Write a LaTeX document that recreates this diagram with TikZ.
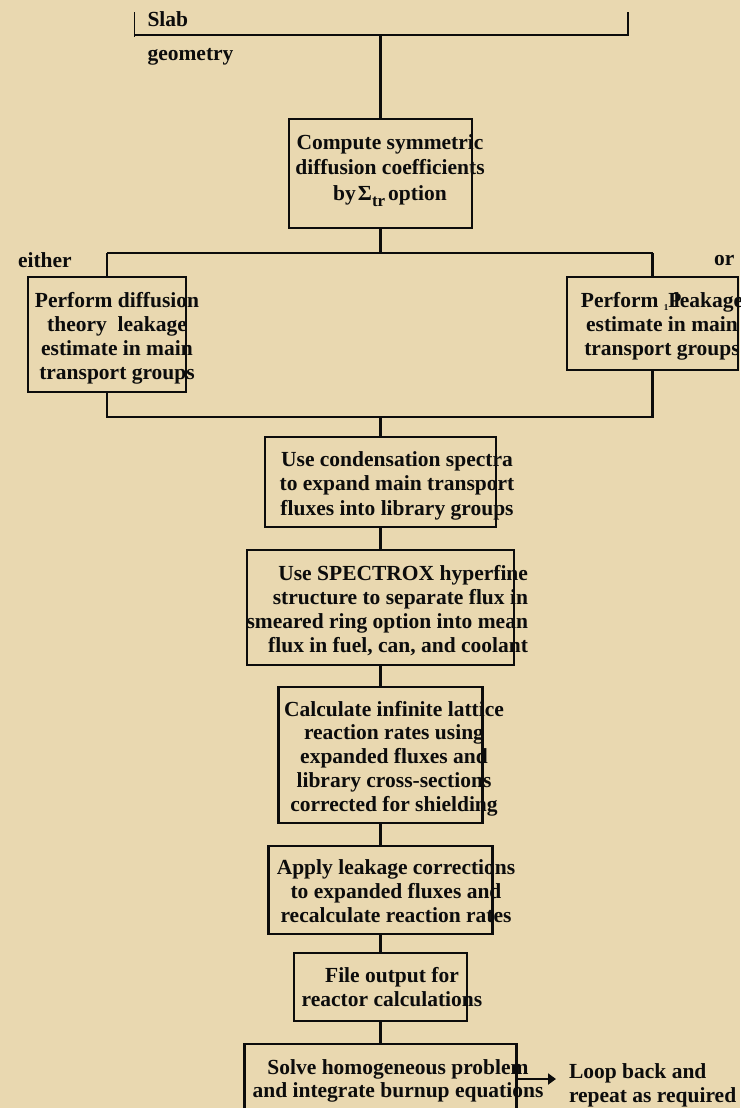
\documentclass[tikz,border=0pt]{standalone}
\usepackage{fontspec}
\setmainfont{Liberation Serif}
\usetikzlibrary{arrows.meta}
\definecolor{bgc}{RGB}{233,216,176}
\definecolor{ink}{RGB}{12,12,12}
\newcommand{\mytab}[2][c]{\begin{tabular}[t]{@{}#1@{}}#2\end{tabular}}
\begin{document}
\begin{tikzpicture}[x=1pt,y=-1pt,
  box/.style={draw=ink,line width=2.1pt,rectangle,inner sep=0pt,outer sep=0pt},
  link/.style={draw=ink,line width=2.1pt},
  bar/.style={draw=ink,line width=2.4pt},
  tick/.style={draw=ink,line width=1.6pt},
  txt/.style={inner sep=0pt,outer sep=0pt,anchor=base,text=ink,font=\bfseries\fontsize{21.5}{24}\selectfont},
  ltxt/.style={txt,anchor=base west}]
\fill[bgc] (0,0) rectangle (740,1108);
\useasboundingbox (0,0) rectangle (740,1108);
\clip (0,0) rectangle (740,1108);

% top bar
\coordinate (barL) at (134.5,35);
\coordinate (barR) at (628,35);
\coordinate (barM) at (380.5,35);
\coordinate (tickLt) at (134.5,12.5);
\coordinate (tickLb) at (134.5,37.5);
\coordinate (tickRt) at (628,12.5);
\coordinate (tickRb) at (628,36.5);
\draw[bar] (barL) -- (barR);
\draw[tick] (tickLt) -- (tickLb);
\draw[tick] (tickRt) -- (tickRb);
\node[ltxt] (slab) at (147.5,27) {Slab};
\node[ltxt] (geom) at (147.5,61) {geometry};

% boxes
\node[box,minimum width=183pt,minimum height=109pt] (compute) at (380.5,173.5) {};
\node[box,minimum width=158pt,minimum height=115pt] (diff) at (107,334.5) {};
\node[box,minimum width=171pt,minimum height=93pt] (pone) at (652.5,323.5) {};
\node[box,minimum width=231pt,minimum height=90pt] (cond) at (380.5,482) {};
\node[box,minimum width=267pt,minimum height=115pt] (spec) at (380.5,607.5) {};
\node[box,minimum width=204pt,minimum height=136pt] (calc) at (380.5,755) {};
\node[box,minimum width=224pt,minimum height=88pt] (apply) at (380.5,890) {};
\node[box,minimum width=173pt,minimum height=68pt] (file) at (380.5,987) {};
\node[box,minimum width=272pt,minimum height=90pt] (solve) at (380.5,1089) {};

% texts
\node[txt,font=\bfseries\fontsize{21.5}{25.5}\selectfont] (computeT) at (390,149)
  {\mytab{Compute symmetric\\diffusion coefficients\\by\kern2pt Σ\raisebox{-6pt}{\fontsize{17}{17}\selectfont tr}\kern3pt option}};
\node[ltxt] (either) at (18,267) {either};
\node[ltxt] (orT) at (714,265) {or};
\node[txt] (diffT) at (117,307)
  {\mytab{Perform diffusion\\theory\ \ leakage\\estimate in main\\transport groups}};
\node[txt] (poneT) at (662,307)
  {\mytab{Perform \raisebox{-3pt}{\fontsize{9}{9}\selectfont 1}\rlap{P}\kern0.25em leakage\\estimate in main\\transport groups}};
\node[txt,font=\bfseries\fontsize{21.5}{24.5}\selectfont] (condT) at (397,466)
  {\mytab{Use condensation spectra\\to expand main transport\\fluxes into library groups}};
\node[txt,anchor=base east] (specT) at (528,580)
  {\mytab[r]{Use SPECTROX hyperfine\\structure to separate flux in\\smeared ring option into mean\\flux in fuel, can, and coolant}};
\node[txt,font=\bfseries\fontsize{21.5}{23.75}\selectfont] (calcT) at (394,716)
  {\mytab{Calculate infinite lattice\\reaction rates using\\expanded fluxes and\\library cross-sections\\corrected for shielding}};
\node[txt] (applyT) at (396,874)
  {\mytab{Apply leakage corrections\\to expanded fluxes and\\recalculate reaction rates}};
\node[txt] (fileT) at (392,982)
  {\mytab{File output for\\reactor calculations}};
\node[txt,font=\bfseries\fontsize{21.5}{23}\selectfont] (solveT) at (398,1074)
  {\mytab{Solve homogeneous problem\\and integrate burnup equations}};
\node[ltxt] (loopT) at (569,1078)
  {\mytab[l]{Loop back and\\repeat as required}};

% connectors
\coordinate (split) at (380.5,253);
\coordinate (splitL) at (107,253);
\coordinate (splitR) at (652.5,253);
\coordinate (joinL) at (107,417);
\coordinate (joinR) at (652.5,417);
\coordinate (join) at (380.5,417);
\coordinate (arrowEnd) at (556,1079);
\draw[link] (barM) -- (compute.north);
\draw[link] (compute.south) -- (split);
\draw[link] (splitL) -- (splitR);
\draw[link] (splitL) -- (diff.north);
\draw[link] (splitR) -- (pone.north);
\draw[link] (diff.south) -- (joinL) -- (joinR) -- (pone.south);
\draw[link] (join) -- (cond.north);
\draw[link] (cond.south) -- (spec.north);
\draw[link] (spec.south) -- (calc.north);
\draw[link] (calc.south) -- (apply.north);
\draw[link] (apply.south) -- (file.north);
\draw[link] (file.south) -- (solve.north);
\draw[link,-{Triangle[length=8pt,width=11pt]}] (solve.east |- arrowEnd) -- (arrowEnd);
\end{tikzpicture}
\end{document}
